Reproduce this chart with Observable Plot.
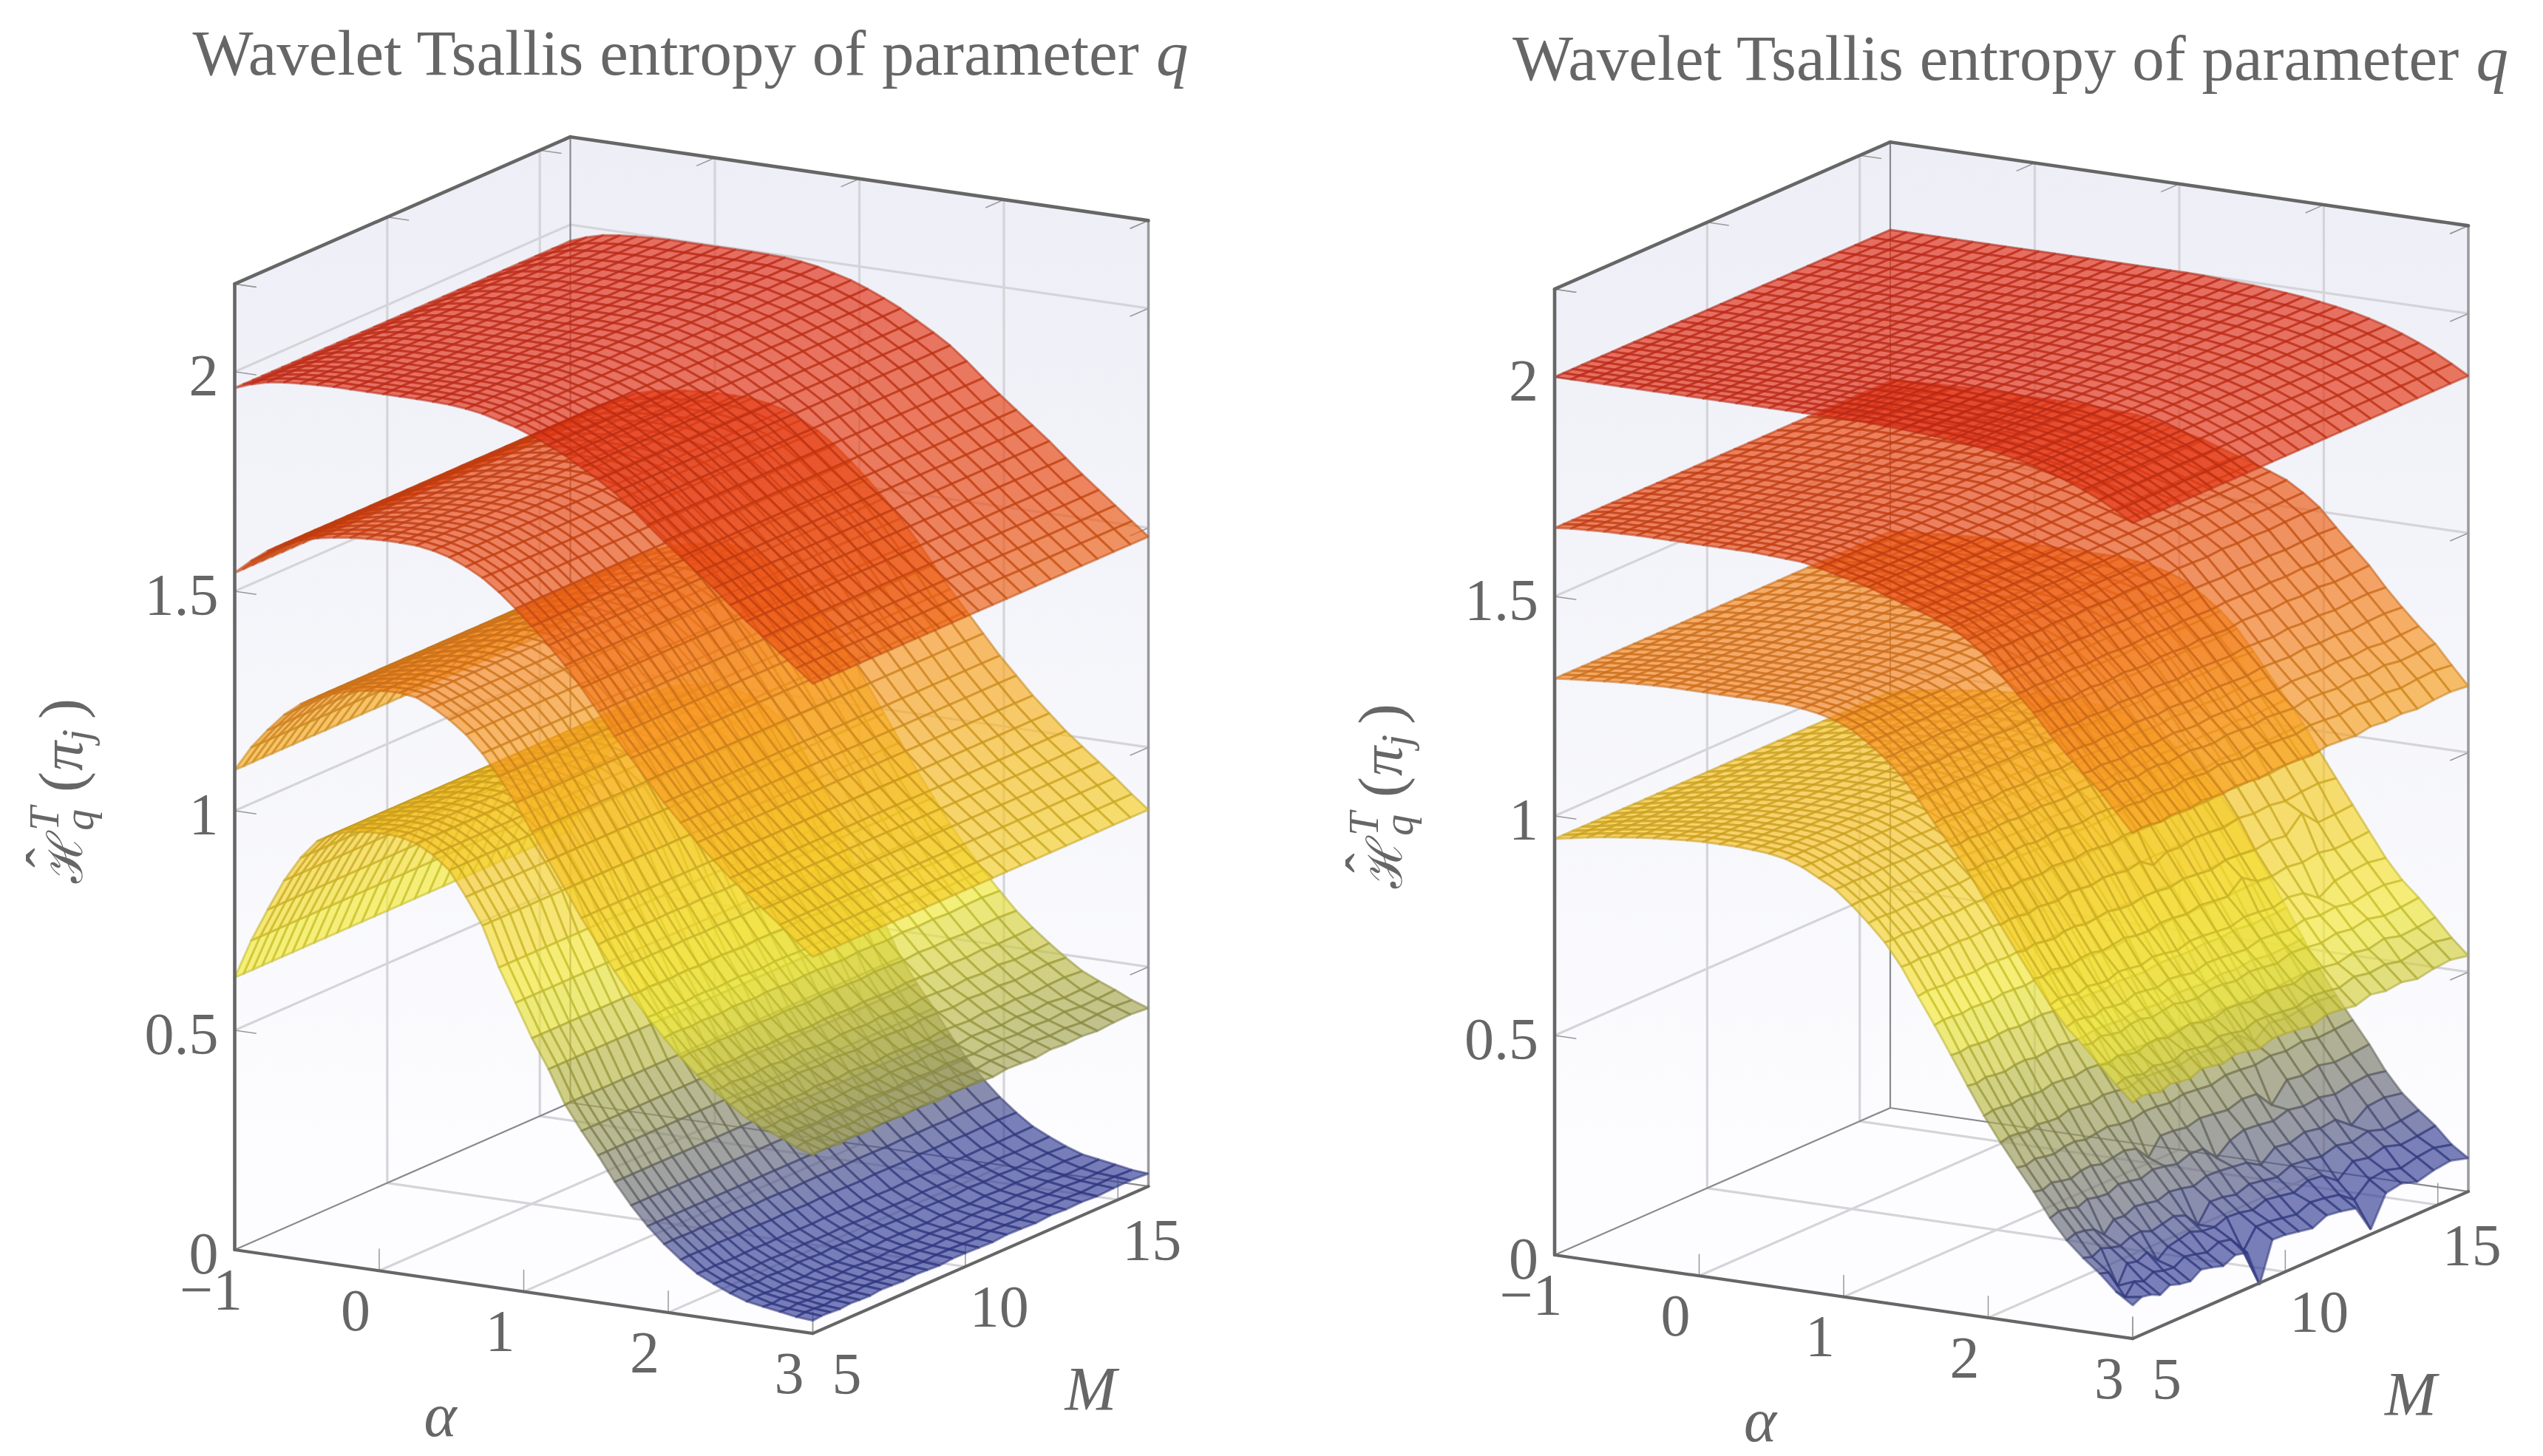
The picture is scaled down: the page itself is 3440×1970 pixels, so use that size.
<!DOCTYPE html>
<html><head><meta charset="utf-8">
<script src="https://cdn.jsdelivr.net/npm/d3@7"></script>
<script src="https://cdn.jsdelivr.net/npm/@observablehq/plot@0.6"></script>
<style>html,body{margin:0;padding:0;background:#fff}svg{display:block}</style>
</head><body><div id="chart"></div>
<script>
// Surface profiles H(alpha), at 36 alpha nodes from -1 to 3
const leftQ1 = [1.963,1.977,1.987,1.992,1.995,1.997,1.998,1.998,1.998,1.998,1.998,1.998,1.997,1.996,1.992,1.986,1.976,1.966,1.952,1.936,1.918,1.896,1.874,1.85,1.82,1.787,1.755,1.725,1.695,1.665,1.632,1.6,1.57,1.54,1.51,1.48];
const leftQ2 = [1.542,1.575,1.603,1.622,1.638,1.648,1.655,1.66,1.663,1.665,1.665,1.664,1.658,1.648,1.632,1.612,1.585,1.553,1.518,1.48,1.44,1.394,1.345,1.295,1.25,1.205,1.16,1.12,1.08,1.045,1.01,.98,.95,.92,.888,.858];
const leftQ3 = [1.093,1.15,1.195,1.235,1.265,1.285,1.3,1.31,1.317,1.322,1.323,1.318,1.3,1.278,1.25,1.212,1.165,1.11,1.05,.99,.93,.87,.815,.76,.71,.665,.625,.585,.55,.52,.495,.47,.45,.435,.42,.407];
const leftQ4 = [.62,.71,.786,.858,.915,.958,.98,.99,.995,.997,.995,.985,.965,.935,.88,.82,.73,.655,.58,.515,.44,.385,.335,.28,.232,.19,.155,.125,.098,.08,.065,.052,.044,.038,.033,.03];
const rightQ1 = [2,2,2,2,2,2,2,2,2,2,2,2,2,2,2,2,2,2,2,1.999,1.997,1.995,1.993,1.99,1.987,1.983,1.978,1.972,1.965,1.956,1.945,1.932,1.917,1.9,1.88,1.858];
const rightQ2 = [1.656,1.66,1.662,1.664,1.665,1.666,1.666,1.666,1.666,1.666,1.666,1.666,1.666,1.664,1.662,1.66,1.652,1.643,1.634,1.625,1.612,1.6,1.588,1.575,1.56,1.537,1.51,1.47,1.43,1.392,1.35,1.31,1.27,1.235,1.195,1.153];
const rightQ3 = [1.313,1.317,1.32,1.323,1.326,1.328,1.33,1.331,1.331,1.331,1.331,1.331,1.331,1.331,1.33,1.326,1.32,1.31,1.295,1.27,1.24,1.205,1.16,1.11,1.06,1.01,.955,.9,.84,.785,.735,.69,.65,.61,.575,.54];
const rightQ4 = [.948,.955,.962,.968,.973,.978,.982,.985,.988,.99,.99,.99,.988,.985,.978,.965,.945,.925,.895,.86,.82,.77,.71,.65,.585,.52,.46,.405,.35,.3,.25,.205,.165,.135,.105,.08];
// M nodes of the mesh: their spacing widens toward high M
const mNodes = [5,5.29,5.59,5.9,6.22,6.55,6.89,7.24,7.6,7.97,8.36,8.76,9.16,9.58,10.01,10.45,10.9,11.36,11.83,12.31,12.8,13.3,13.81,14.33,14.86,15.41,16];
// Small irregularities along M
const rippleEven = [.3,-.5,.8,-.2,-.9,.4,.7,-.6,.1,.9,-.4,-.8,.5,.2,-.7,.6,-.1,-.9,.8,.3,-.5,.7,-.3,.9,-.6,-.2,.5];
const rippleOdd = [-.4,.6,.2,-.8,.5,-.3,-.7,.9,.3,-.5,.8,.1,-.9,.6,.4,-.2,-.8,.7,.2,-.6,.9,-.1,.5,-.7,.3,.8,-.4];
const leftRippleQ3 = [0,0,0,0,0,0,0,0,0,0,0,0,0,0,0,0,0,0,0,0,0,0,.001,.001,.002,.002,.002,.002,.002,.003,.003,.003,.003,.003,.003,.003];
const leftRippleQ4 = [0,0,0,0,0,0,0,0,0,0,0,0,0,0,0,0,0,0,0,0,0,0,0,0,0,0,.001,.001,.001,.001,.002,.002,.002,.002,.002,.002];
const rightRippleQ2 = [0,0,0,0,0,0,0,0,0,0,0,0,0,0,0,0,0,0,0,0,0,0,0,0,.001,.001,.002,.002,.002,.003,.003,.003,.003,.004,.004,.004];
const rightRippleQ3 = [0,0,0,0,0,0,0,0,0,0,0,0,0,0,0,0,0,0,.001,.001,.002,.002,.002,.003,.003,.004,.004,.005,.005,.005,.006,.006,.006,.007,.007,.007];
const rightRippleQ4 = [0,0,0,0,0,0,0,0,0,0,0,0,0,0,0,0,.001,.001,.002,.002,.002,.002,.003,.003,.003,.004,.004,.005,.005,.006,.007,.007,.008,.008,.009,.01];
// Dips of the right panel's surfaces: alpha node, M node, offset
const rightDipsQ4 = [[35,12,-.075],[34,12,-.03],[35,20,-.078],[34,20,-.04],[33,20,-.02],[33,2,-.05],[34,1,-.03],[31,4,-.03],[29,11,-.03],[32,11,-.03],[30,15,-.03],[29,20,-.035],[27,21,-.025],[33,6,-.03],[31,17,-.03],[31,23,-.02]];
const rightDipsQ3 = [[28,23,.03],[30,22,-.03],[29,18,.02],[27,14,-.02]];
// Axes
const alphaTicks = [-1,0,1,2,3];
const alphaLabels = ["−1","0","1","2","3"];
const mTicks = [5,10,15];
const mLabels = ["5","10","15"];
const zTicks = [0,.5,1,1.5,2];
const zLabels = ["0","0.5","1","1.5","2"];
const alphaDomain = [-1,3], mDomain = [5,16], zDomain = [0,2.2];
const colorStops = [[0,"#333d99"],[.12,"#3c4596"],[.3,"#858569"],[.45,"#b0b04d"],[.65,"#f3eb37"],[1,"#f6be23"],[1.25,"#f89422"],[1.6,"#ea4c13"],[2,"#e23119"]];

const alphaCount = 36;
const cmap = d3.scaleLinear().domain(colorStops.map(d=>d[0])).range(colorStops.map(d=>d[1])).clamp(true);
const alphaAt = i => alphaDomain[0] + i*(alphaDomain[1]-alphaDomain[0])/(alphaCount-1);
const panels = [
  {ox:317, oy:1690.5, profiles:[
    {z:leftQ4, w:leftRippleQ4, dips:[]},{z:leftQ3, w:leftRippleQ3, dips:[]},{z:leftQ2, dips:[]},{z:leftQ1, dips:[]}]},
  {ox:2102.5, oy:1697.5, profiles:[
    {z:rightQ4, w:rightRippleQ4, dips:rightDipsQ4},{z:rightQ3, w:rightRippleQ3, dips:rightDipsQ3},{z:rightQ2, w:rightRippleQ2, dips:[]},{z:rightQ1, dips:[]}]}
];
const AX=195.5, AY=28.3, MX=454/11, MY=-199/11, ZY=594;

function panelMarks(p, idx){
  const px=(a,m)=>p.ox+(a-alphaDomain[0])*AX+(m-mDomain[0])*MX;
  const py=(a,m,z)=>p.oy+(a-alphaDomain[0])*AY+(m-mDomain[0])*MY-z*ZY;
  const pt=(a,m,z)=>({x:px(a,m),y:py(a,m,z)});
  const [a0,a1]=alphaDomain,[m0,m1]=mDomain,[z0,z1]=zDomain;
  const seg=(id,pts)=>pts.map(q=>({...pt(...q),id}));
  const lineSet=(segs,opts)=>Plot.line(segs.flatMap((s,k)=>seg(k,s)),{x:"x",y:"y",z:"id",...opts});

  const marks=[];
  const gid="wall"+idx;
  marks.push(()=>{const d=d3.create("svg:defs");
    const g=d.append("linearGradient").attr("id",gid).attr("gradientUnits","userSpaceOnUse")
      .attr("x1",0).attr("x2",0).attr("y1",py(a0,m1,z1)).attr("y2",py(a1,m1,0));
    g.append("stop").attr("offset",0).attr("stop-color","#edeef6");
    g.append("stop").attr("offset",1).attr("stop-color","#fdfdff");
    return d.node();});
  const wall=(pts)=>Plot.line(seg(0,pts),{x:"x",y:"y",z:"id",fill:`url(#${gid})`,stroke:"none"});
  marks.push(wall([[a0,m0,0],[a0,m1,0],[a0,m1,z1],[a0,m0,z1],[a0,m0,0]]));
  marks.push(wall([[a0,m1,0],[a1,m1,0],[a1,m1,z1],[a0,m1,z1],[a0,m1,0]]));
  marks.push(Plot.line(seg(0,[[a0,m0,0],[a1,m0,0],[a1,m1,0],[a0,m1,0],[a0,m0,0]]),{x:"x",y:"y",z:"id",fill:"#fdfdff",stroke:"none"}));

  // grid
  const grid=[];
  for(const z of zTicks.slice(1)){grid.push([[a0,m0,z],[a0,m1,z]]);grid.push([[a0,m1,z],[a1,m1,z]]);}
  for(const a of alphaTicks.slice(1,-1)){grid.push([[a,m1,0],[a,m1,z1]]);grid.push([[a,m0,0],[a,m1,0]]);}
  for(const m of mTicks.slice(1)){grid.push([[a0,m,0],[a0,m,z1]]);grid.push([[a0,m,0],[a1,m,0]]);}
  marks.push(lineSet(grid,{stroke:"#d4d4d9",strokeWidth:3.2,strokeLinecap:"butt"}));

  // thin ticks
  const dA=.15, dM=.6, dZ=.05, ticks=[];
  for(const z of zTicks.concat(z1)){ticks.push([[a0,m0,z],[a0+dA,m0,z]]);ticks.push([[a1,m1,z],[a1,m1-dM,z]]);}
  for(const a of alphaTicks.slice(1)){ticks.push([[a,m0,0],[a,m0,dZ]]);ticks.push([[a,m1,z1],[a,m1-dM,z1]]);}
  for(const m of mTicks){ticks.push([[a1,m,0],[a1,m,dZ]]);ticks.push([[a0,m,z1],[a0+dA,m,z1]]);}
  marks.push(lineSet(ticks,{stroke:"#999",strokeWidth:1.5,strokeLinecap:"butt"}));

  // rear box edges
  marks.push(lineSet([[[a0,m0,0],[a0,m1,0]],[[a0,m1,0],[a1,m1,0]],[[a0,m1,0],[a0,m1,z1]]],{stroke:"#8a8a8e",strokeWidth:2.2}));
  marks.push(lineSet([[[a1,m1,0],[a1,m1,z1]]],{stroke:"#9a9a9e",strokeWidth:3.5}));

  // surfaces
  p.profiles.forEach((s,si)=>{
    const dip=new Map(s.dips.map(d=>[d[0]+"_"+d[1],d[2]]));
    const H=(i,j)=>s.z[i]+(s.w?s.w[i]*((i>>1)%2?rippleOdd[j]:rippleEven[j]):0)+(dip.get(i+"_"+j)||0);
    const rows=[];
    for(let i=0;i<alphaCount-1;i++) for(let j=mNodes.length-2;j>=0;j--){
      const corners=[[i,j],[i+1,j],[i+1,j+1],[i,j+1],[i,j]];
      const mean=(H(i,j)+H(i+1,j)+H(i+1,j+1)+H(i,j+1))/4;
      const c=d3.rgb(cmap(mean));
      const fill=c.formatHex(), line=d3.rgb(c.r*.8,c.g*.8,c.b*.8).formatHex();
      for(const [u,v] of corners){
        rows.push({...pt(alphaAt(u),mNodes[v],H(u,v)),id:si*10000+i*100+j,fill,line});
      }
    }
    marks.push(Plot.line(rows,{x:"x",y:"y",z:"id",fill:"fill",stroke:"line",fillOpacity:.68,strokeOpacity:.55,strokeWidth:3,strokeLinejoin:"miter"}));
  });

  // front box edges
  marks.push(lineSet([[[a0,m0,0],[a1,m0,0]],[[a1,m0,0],[a1,m1,0]]],{stroke:"#666",strokeWidth:4.2}));
  marks.push(lineSet([[[a0,m0,0],[a0,m0,z1]],[[a0,m0,z1],[a0,m1,z1]],[[a0,m1,z1],[a1,m1,z1]]],{stroke:"#666",strokeWidth:4.6,strokeLinecap:"round"}));

  // tick labels
  const T={fontFamily:"Liberation Serif",fill:"#666",lineAnchor:"middle"};
  const zRows=zTicks.map((z,k)=>({...pt(a0,m0,z),t:zLabels[k]}));
  marks.push(Plot.text(zRows,{x:"x",y:"y",text:"t",textAnchor:"end",dx:-22,dy:6,fontSize:80,...T}));
  const aRows=alphaTicks.map((a,k)=>({...pt(a,m0,0),t:alphaLabels[k]}));
  marks.push(Plot.text(aRows,{x:"x",y:"y",text:"t",textAnchor:"middle",dx:-32,dy:55,fontSize:80,...T}));
  const mRows=mTicks.map((m,k)=>({...pt(a1,m,0),t:mLabels[k]}));
  marks.push(Plot.text(mRows,{x:"x",y:"y",text:"t",textAnchor:"middle",dx:46,dy:56,fontSize:80,...T}));

  // titles and axis names, placed relative to the panel origin
  const at=(dx,dy,t)=>[{x:p.ox+dx,y:p.oy+dy,t}];
  const B={x:"x",y:"y",text:"t",fontFamily:"Liberation Serif",fill:"#666",lineAnchor:"bottom"};
  marks.push(Plot.text(at(-57,-1590,"Wavelet Tsallis entropy of parameter"),{...B,textAnchor:"start",fontSize:87}));
  marks.push(Plot.text(at(1290,-1590,"q"),{...B,textAnchor:"end",fontSize:87,fontStyle:"italic"}));
  marks.push(Plot.text(at(278,252,"α"),{...B,textAnchor:"middle",fontSize:84,fontStyle:"italic"}));
  marks.push(Plot.text(at(1158,217,"M"),{...B,textAnchor:"middle",fontSize:84,fontStyle:"italic"}));
  const R={...B,textAnchor:"start",rotate:-90};
  marks.push(Plot.text(at(-207,-496,"ℋ"),{...R,fontSize:66}));
  marks.push(Plot.text(at(-227,-517,"ˆ"),{...R,fontSize:80}));
  marks.push(Plot.text(at(-239,-567,"T"),{...R,fontSize:58,fontStyle:"italic"}));
  marks.push(Plot.text(at(-192,-567,"q"),{...R,fontSize:58,fontStyle:"italic"}));
  marks.push(Plot.text(at(-207,-619,"("),{...R,fontSize:84}));
  marks.push(Plot.text(at(-207,-648,"π"),{...R,fontSize:80,fontStyle:"italic"}));
  marks.push(Plot.text(at(-195,-688,"j"),{...R,fontSize:58,fontStyle:"italic"}));
  marks.push(Plot.text(at(-207,-718,")"),{...R,fontSize:84}));
  return marks;
}

const plot = Plot.plot({
  width:3440, height:1970, margin:0,
  x:{domain:[0,3440],range:[0,3440],axis:null},
  y:{domain:[0,1970],range:[0,1970],axis:null},
  style:{background:"#fff",fontFamily:"Liberation Serif"},
  marks: panels.flatMap(panelMarks)
});
document.getElementById("chart").appendChild(plot);
</script></body></html>
